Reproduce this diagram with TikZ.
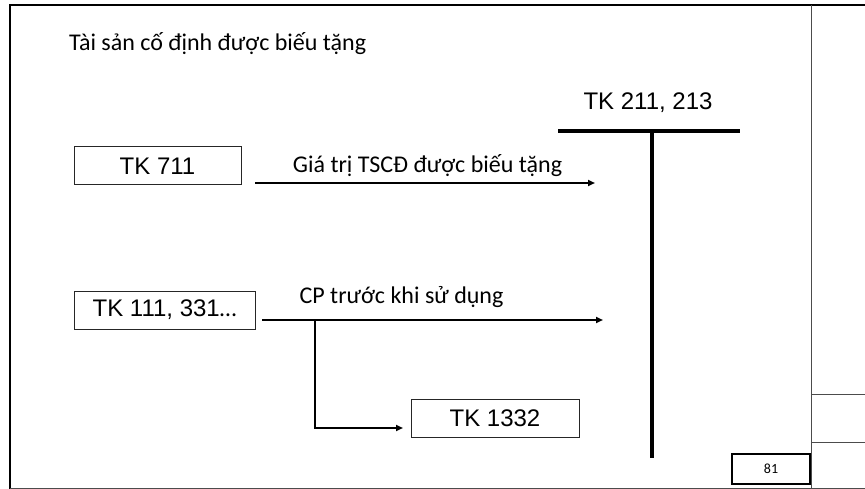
\documentclass[tikz,border=0pt]{standalone}
\usepackage{fontspec}
\setmainfont{Carlito}
\newfontfamily\arialf{Liberation Sans}
\usetikzlibrary{arrows.meta}
\begin{document}
\begin{tikzpicture}[x=1pt,y=-1pt,
  acct/.style={draw=black!85,line width=1pt,font=\arialf\fontsize{24}{26}\selectfont,inner sep=0pt},
  lbl/.style={font=\fontsize{24}{28}\selectfont,inner sep=0pt,anchor=base},
  flow/.style={line width=2pt,-{Triangle[length=7pt,width=6pt]}},
  frame/.style={line width=1pt,draw=black!70},
  tline/.style={line width=4pt}]
\useasboundingbox (0,0) rectangle (865,489);
% frame
\draw[line width=2.5pt] (9,5) -- (865,5);
\draw[line width=2.5pt] (10,5) -- (10,489);
\draw[frame] (10,488) -- (865,488);
\draw[frame] (811,5) -- (811,489);
\draw[frame] (811,394) -- (865,394);
\draw[frame] (811,442) -- (865,442);
\node[draw,line width=2pt,minimum width=78pt,minimum height=30pt,inner sep=0pt,font=\fontsize{14}{16}\selectfont] (pg) at (771,468.5) {81};
% title
\node[anchor=base west,inner sep=0pt,font=\fontsize{24}{28}\selectfont] (title) at (69,51) {Tài sản cố định được biếu tặng};
% T account
\node[anchor=base,inner sep=0pt,font=\arialf\fontsize{24}{26}\selectfont] (tk211) at (648,110) {TK 211, 213};
\coordinate (tl) at (558,131);
\coordinate (tr) at (740,131);
\coordinate (tm) at (652,131);
\coordinate (tb) at (652,458);
\draw[tline] (tl) -- (tr);
\draw[tline] (tm) -- (tb);
% boxes
\node[acct,minimum width=167pt,minimum height=38pt] (tk711) at (157.5,166) {TK 711};
\node[acct,minimum width=181pt,minimum height=38pt] (tk111) at (164.5,310) {TK 111, 331{\fontspec{Carlito}…}};
\node[acct,minimum width=168pt,minimum height=38pt] (tk1332) at (495,418) {TK 1332};
% arrows
\coordinate (a1s) at (255,183);
\coordinate (a1e) at (595,183);
\draw[flow] (a1s) -- (a1e);
\node[lbl] (l1) at (427.5,173) {Giá trị TSCĐ được biếu tặng};
\coordinate (a2s) at (262,320);
\coordinate (a2e) at (603,320);
\draw[flow] (a2s) -- (a2e);
\node[lbl] (l2) at (401.5,303) {CP trước khi sử dụng};
\coordinate (bs) at (315,320);
\coordinate (bc) at (315,428);
\coordinate (be) at (403,428);
\draw[flow] (bs) -- (bc) -- (be);
\end{tikzpicture}
\end{document}
